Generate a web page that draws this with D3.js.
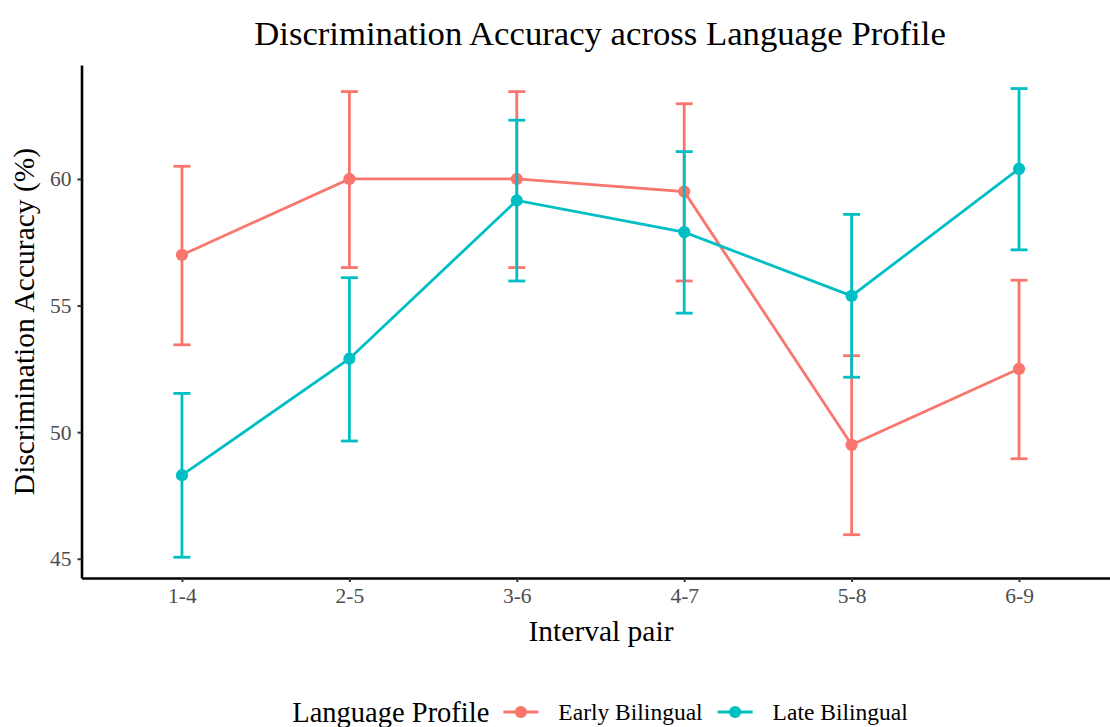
<!DOCTYPE html>
<html>
<head>
<meta charset="utf-8">
<script src="https://cdn.jsdelivr.net/npm/d3@7/dist/d3.min.js"></script>
<style>
  html, body { margin: 0; padding: 0; background: #fff; }
  svg { display: block; }
  text { font-family: "Liberation Serif", "Times New Roman", serif; }
</style>
</head>
<body>
<svg id="chart" width="1110" height="727"></svg>
<script>
// Interval pairs on the x axis
const categories = ["1-4", "2-5", "3-6", "4-7", "5-8", "6-9"];

// Early bilinguals: mean accuracy (%) with error-bar bounds
const earlyMean = [57.0, 60.0, 60.0, 59.5, 49.5, 52.5];
const earlyLow  = [53.45, 56.5, 56.5, 55.97, 45.95, 48.95];
const earlyHigh = [60.5, 63.45, 63.45, 62.97, 53.02, 56.0];

// Late bilinguals: mean accuracy (%) with error-bar bounds
const lateMean = [48.3, 52.9, 59.15, 57.9, 55.38, 60.4];
const lateLow  = [45.06, 49.65, 55.97, 54.7, 52.17, 57.2];
const lateHigh = [51.53, 56.1, 62.32, 61.08, 58.6, 63.57];

const yTicks = [45, 50, 55, 60];
const groups = ["Early Bilingual", "Late Bilingual"];
const colors = ["#F8766D", "#00BFC4"];

const series = [
  { name: groups[0], color: colors[0], mean: earlyMean, low: earlyLow, high: earlyHigh },
  { name: groups[1], color: colors[1], mean: lateMean, low: lateLow, high: lateHigh }
];

const svg = d3.select("#chart");
const panel = { left: 81.5, right: 1119.5, top: 65, bottom: 578 };
const font = { title: 34.7, axisTitle: 29.5, tick: 21.5, legendTitle: 28.5, legendLabel: 23.5 };

const x = d3.scalePoint().domain(categories).range([panel.left, panel.right]).padding(0.6);
const y = d3.scaleLinear().domain([44.24, 64.5]).range([panel.bottom, panel.top]);

// Title
svg.append("text")
  .attr("x", 600).attr("y", 44.5)
  .attr("text-anchor", "middle")
  .attr("font-size", font.title)
  .attr("fill", "#000")
  .text("Discrimination Accuracy across Language Profile");

// Axes
const yAxis = svg.append("g")
  .attr("transform", `translate(${panel.left},0)`)
  .call(d3.axisLeft(y).tickValues(yTicks).tickSize(4).tickSizeOuter(0).tickPadding(6));
const xAxis = svg.append("g")
  .attr("transform", `translate(0,${panel.bottom})`)
  .call(d3.axisBottom(x).tickSize(4).tickSizeOuter(0).tickPadding(6));

[yAxis, xAxis].forEach(g => {
  g.select(".domain").attr("stroke", "#000").attr("stroke-width", 2.6);
  g.selectAll(".tick line").attr("stroke", "#333").attr("stroke-width", 2);
  g.selectAll(".tick text")
    .attr("font-family", "Liberation Serif, Times New Roman, serif")
    .attr("font-size", font.tick).attr("fill", "#4d4d4d");
});

// Axis titles
svg.append("text")
  .attr("x", 601).attr("y", 641)
  .attr("text-anchor", "middle")
  .attr("font-size", font.axisTitle)
  .text("Interval pair");

svg.append("text")
  .attr("transform", `translate(34,${(panel.top + panel.bottom) / 2}) rotate(-90)`)
  .attr("text-anchor", "middle")
  .attr("font-size", font.axisTitle)
  .text("Discrimination Accuracy (%)");

// Series: line, error bars, points
const line = d3.line().x((d, i) => x(categories[i])).y(d => y(d));
const capHalf = 8.5;
const pointR = 6.1;

series.forEach(s => {
  const g = svg.append("g");
  g.append("path")
    .datum(s.mean)
    .attr("d", line)
    .attr("fill", "none")
    .attr("stroke", s.color)
    .attr("stroke-width", 2.8);

  categories.forEach((c, i) => {
    const cx = x(c);
    const eb = g.append("g").attr("stroke", s.color).attr("stroke-width", 2.8).attr("fill", "none");
    eb.append("line").attr("x1", cx).attr("x2", cx).attr("y1", y(s.low[i])).attr("y2", y(s.high[i]));
    eb.append("line").attr("x1", cx - capHalf).attr("x2", cx + capHalf).attr("y1", y(s.high[i])).attr("y2", y(s.high[i]));
    eb.append("line").attr("x1", cx - capHalf).attr("x2", cx + capHalf).attr("y1", y(s.low[i])).attr("y2", y(s.low[i]));
  });

  g.selectAll("circle")
    .data(s.mean)
    .join("circle")
    .attr("cx", (d, i) => x(categories[i]))
    .attr("cy", d => y(d))
    .attr("r", pointR)
    .attr("fill", s.color);
});

// Legend, laid out left to right and centred under the panel
const legendY = 712;
const legend = svg.append("g");
const lt = legend.append("text")
  .attr("y", legendY + 9.5)
  .attr("font-size", font.legendTitle)
  .text("Language Profile");
const keyW = 35, titleGap = 14, keyGap = 20, itemGap = 15;
let cursor = lt.node().getComputedTextLength() + titleGap;
series.forEach((s, i) => {
  const k = legend.append("g").attr("transform", `translate(${cursor},${legendY})`);
  k.append("line").attr("x1", 0).attr("x2", keyW).attr("y1", 0).attr("y2", 0)
    .attr("stroke", s.color).attr("stroke-width", 2.8);
  k.append("circle").attr("cx", keyW / 2).attr("cy", 0).attr("r", pointR).attr("fill", s.color);
  const t = k.append("text").attr("x", keyW + keyGap).attr("y", 8)
    .attr("font-size", font.legendLabel)
    .text(s.name);
  cursor += keyW + keyGap + t.node().getComputedTextLength() + itemGap;
});
const legendW = cursor - itemGap;
legend.attr("transform", `translate(${600 - legendW / 2},0)`);
</script>
</body>
</html>
